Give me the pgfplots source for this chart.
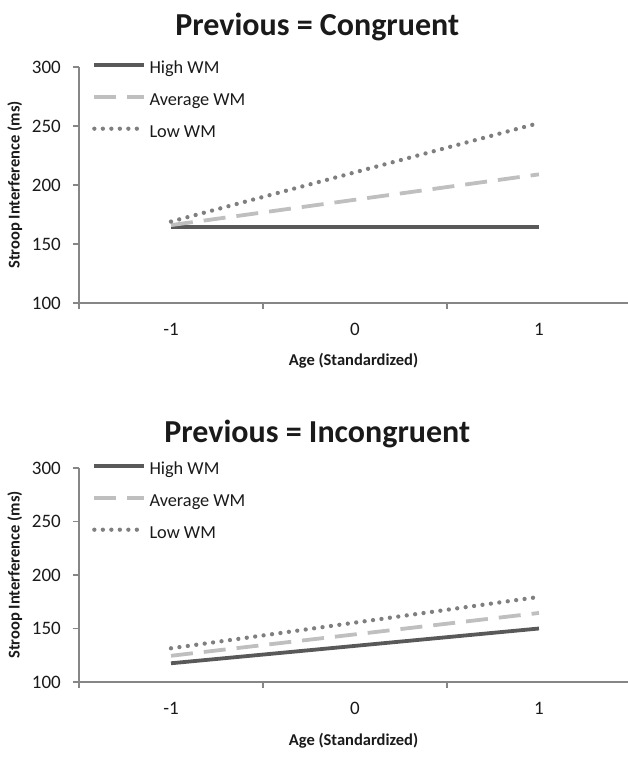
\documentclass[border=0pt]{standalone}
\usepackage{fontspec}
\setmainfont{Carlito}
\usepackage{pgfplots}
\pgfplotsset{compat=1.18}
\definecolor{highc}{HTML}{595959}
\definecolor{avgc}{HTML}{BFBFBF}
\definecolor{lowc}{HTML}{7F7F7F}
\definecolor{axc}{HTML}{868686}
\definecolor{txt}{HTML}{1A1A1A}

\pgfplotsset{
  stroop/.style={
    scale only axis, width=549pt,
    xmin=-1.5, xmax=1.484, ymin=100, ymax=300,
    axis x line*=bottom, axis y line*=left,
    axis line style={axc, line width=1.3pt},
    tick align=outside, tick pos=left,
    major tick length=6pt, minor tick length=6pt,
    tick style={axc, line width=1.3pt},
    xtick={-1,0,1}, xticklabels={-1,0,1},
    xtick style={/pgfplots/major tick length=0pt},
    minor xtick={-1.5,-0.5,0.5},
    ytick={100,150,200,250,300},
    /pgf/number format/assume math mode=true,
    ticklabel style={font=\fontsize{19}{22}\selectfont, text=txt},
    xticklabel style={anchor=center, yshift=-20pt},
    yticklabel style={anchor=east, inner sep=0pt, xshift=-12pt},
    xlabel={Age (Standardized)},
    ylabel={Stroop Interference (ms)},
    label style={font=\fontsize{16.5}{20}\selectfont\bfseries, text=txt},
    ylabel style={at={(axis description cs:-0.117,0.5)}, anchor=center},
    title style={font=\fontsize{32}{38}\selectfont\bfseries, text=txt,
                 at={(axis description cs:0.434,1)}, anchor=center},
    legend style={at={(axis description cs:0.0237,1)}, anchor=north west,
      yshift=6pt, draw=none, fill=none, inner sep=0pt,
      font=\fontsize{18.3}{22}\selectfont,
      nodes={inner sep=0pt, text height=12pt, text depth=4pt, text=txt},
      row sep=16pt, column sep=3pt},
    legend cell align=left,
    legend image code/.code={\draw[##1] (0pt,4.5pt) -- (50pt,4.5pt);},
    every axis plot/.append style={line width=3.8pt},
    high/.style={highc, solid},
    avg/.style={avgc, dash pattern=on 22pt off 11pt},
    low/.style={lowc, line width=4.3pt, line cap=round, dash pattern=on 0pt off 8.5pt},
  }
}

\begin{document}
\begin{tikzpicture}
\useasboundingbox (0,0) rectangle (628pt,773pt);

% Previous = Congruent
\begin{axis}[stroop, height=236pt, at={(79pt,470pt)}, anchor=south west,
  title={Previous = Congruent},
  title style={yshift=34pt},
  xlabel style={at={(axis description cs:0.5,0)}, anchor=center, yshift=-58pt}]
\addplot[high] coordinates {(-1,164.5) (1,164.5)};
\addlegendentry{High WM}
\addplot[avg] coordinates {(-1,166) (1,209)};
\addlegendentry{Average WM}
\addplot[low] coordinates {(-1,169) (1,252.5)};
\addlegendentry{Low WM}
\end{axis}

% Previous = Incongruent
\begin{axis}[stroop, height=214pt, at={(79pt,91pt)}, anchor=south west,
  title={Previous = Incongruent},
  title style={yshift=28pt},
  xlabel style={at={(axis description cs:0.5,0)}, anchor=center, yshift=-59pt}]
\addplot[high] coordinates {(-1,117.5) (1,150)};
\addlegendentry{High WM}
\addplot[avg] coordinates {(-1,124.5) (1,164.5)};
\addlegendentry{Average WM}
\addplot[low] coordinates {(-1,131.5) (1,179.5)};
\addlegendentry{Low WM}
\end{axis}
\end{tikzpicture}
\end{document}
